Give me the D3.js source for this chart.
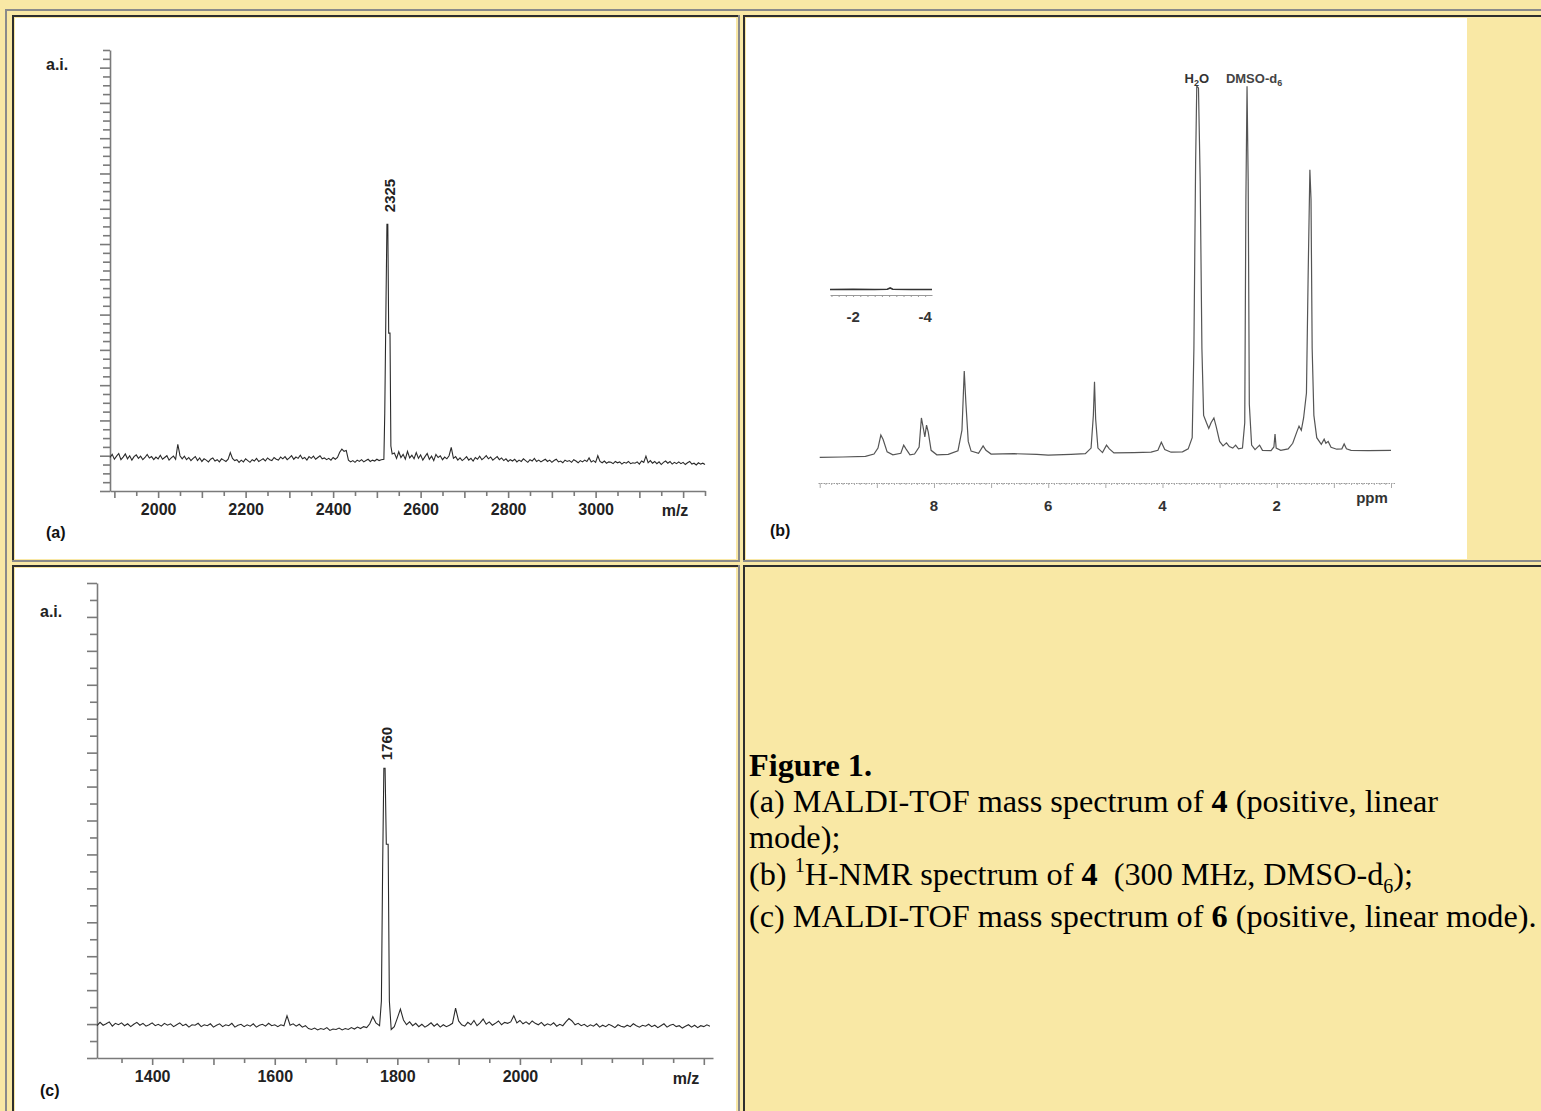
<!DOCTYPE html>
<html>
<head>
<meta charset="utf-8">
<script src="https://cdn.jsdelivr.net/npm/d3@7"></script>
<style>
  body { margin: 0; background: #f9e8a5; }
  svg { display: block; }
</style>
</head>
<body>
<svg id="fig" width="1541" height="1111"></svg>
<script>
// ---- data ----

// (a) MALDI-TOF of 4: baseline samples every 5 m/z from 1890
const mzStartA = 1890, mzStepA = 5;
const noiseA = [
  7.6,8.3,7.2,7.9,8.5,7.1,7.7,8.4,7.3,8.0,7.0,7.8,8.2,7.4,7.9,7.1,7.6,8.3,7.5,7.8,
  7.1,7.7,7.3,8.1,7.2,7.6,8.0,7.0,7.5,7.9,7.2,10.6,8.0,7.3,7.9,7.1,7.6,6.9,7.4,7.8,
  6.9,7.5,6.7,7.3,7.0,6.6,7.2,7.5,6.8,7.1,6.6,7.3,7.0,6.7,7.2,8.7,7.4,6.9,7.1,6.5,
  7.0,6.6,7.3,6.9,6.5,7.1,6.8,7.4,6.7,7.0,7.3,6.8,7.5,7.1,6.9,7.6,7.2,7.0,7.7,7.3,
  7.8,7.1,7.5,8.0,7.2,7.7,7.4,8.1,7.3,7.6,7.0,7.8,7.4,7.9,7.2,7.6,8.0,7.3,7.5,7.1,
  7.4,7.0,7.6,7.2,7.6,8.8,9.5,9.0,9.2,7.0,6.6,6.9,6.5,7.0,6.7,7.1,6.6,6.9,7.2,6.7,
  7.0,6.8,7.2,6.9,7.1,7.0,7.0,7.0,7.0,7.0,8.6,7.4,8.9,7.6,8.3,7.2,9.0,7.5,8.1,7.3,
  8.7,7.4,8.2,7.0,7.8,8.5,7.2,7.9,6.9,8.3,7.6,8.0,7.1,7.7,7.3,8.0,9.9,7.4,7.8,7.0,
  7.5,6.9,7.3,7.8,7.0,7.4,6.8,7.6,7.2,7.9,7.1,7.5,8.0,7.3,7.7,7.0,7.4,7.8,7.1,7.5,
  6.9,7.3,6.7,7.1,6.8,7.2,6.6,7.0,6.7,7.3,6.9,6.5,7.1,6.8,7.4,6.7,7.0,6.6,6.9,7.2,
  6.7,7.0,6.5,6.9,7.2,6.6,6.8,6.4,7.0,6.7,6.9,6.5,7.1,6.8,6.4,6.9,6.6,7.0,6.7,7.5,
  6.6,6.9,6.5,8.0,6.7,6.4,6.8,6.3,6.6,6.5,6.2,6.7,6.4,6.6,6.1,6.5,6.3,6.7,6.2,6.4,
  6.3,6.6,6.1,6.8,6.5,7.9,6.4,6.9,6.3,6.7,6.2,6.6,6.0,6.5,6.8,6.3,6.7,6.1,6.5,6.2,
  6.6,6.2,6.5,6.0,6.4,6.7,6.1,6.3,5.9,6.4,6.1,6.3,6.0];
const peakA = [[2516,7.2],[2518,17.5],[2521,44],[2523,60.5],[2525,60.5],[2527,35.8],[2530,35.8],[2532,10.2],[2535,8.4]];
const peakLabelA = "2325";
const xLabelsA = [2000, 2200, 2400, 2600, 2800, 3000];

// (c) MALDI-TOF of 6: baseline samples every 5 m/z from 1310
const mzStartC = 1310, mzStepC = 5;
const noiseC = [
  6.8,7.5,6.9,7.2,7.6,6.7,7.3,7.0,7.4,6.8,7.2,6.6,7.1,7.5,6.9,7.3,6.7,7.0,7.4,6.8,
  7.1,6.7,7.3,6.9,7.2,6.6,7.0,7.4,6.8,7.1,6.5,7.0,6.9,7.3,6.6,7.0,6.8,7.2,6.5,6.9,
  7.2,6.6,7.0,6.8,7.3,6.5,6.9,7.1,6.6,7.0,6.7,7.2,6.5,6.9,7.1,6.7,7.3,6.8,7.0,6.6,
  7.0,6.8,8.9,6.9,7.2,6.7,7.1,6.5,6.8,6.2,6.0,6.3,5.9,6.2,6.0,6.4,5.8,6.1,6.0,6.3,
  5.9,6.2,6.0,6.4,6.1,6.5,6.2,6.6,6.4,7.2,8.7,7.4,7.0,7.0,7.0,7.0,7.0,6.6,8.4,10.3,
  8.0,7.0,7.6,6.8,7.3,6.6,7.1,6.5,6.9,7.4,6.7,7.2,6.5,7.0,6.6,6.9,7.3,10.5,7.8,7.0,
  6.7,7.5,7.0,7.9,6.8,7.4,8.2,7.1,7.6,6.9,7.3,7.8,7.0,7.5,7.3,7.6,8.9,7.4,7.9,7.2,
  7.6,7.1,7.8,7.3,7.0,7.5,6.8,7.2,6.9,7.4,6.7,7.1,6.8,7.6,8.3,7.8,7.0,7.3,6.8,7.1,
  6.6,7.0,6.7,7.2,6.5,6.9,6.6,7.1,6.8,6.4,7.0,6.7,6.5,6.9,6.6,7.2,6.8,6.5,6.9,6.7,
  7.1,6.6,6.9,6.4,6.8,7.2,6.5,6.9,7.1,6.6,6.8,6.3,6.7,7.0,6.5,6.9,6.4,6.8,6.6,7.0,
  6.7];
const peakC = [[1771,6.8],[1774,12],[1776,40],[1778,61],[1780,61],[1782,45],[1785,45],[1787,12],[1790,6.0]];
const peakLabelC = "1760";
const xLabelsC = [1400, 1600, 1800, 2000];

// (b) 1H-NMR of 4: [ppm, intensity]
const nmrPts = [[10.0,0.7],[9.6,0.8],[9.2,1.0],[9.05,1.6],[8.98,3.2],[8.93,6.7],[8.89,5.5],[8.82,2.2],[8.72,1.4],
  [8.58,1.8],[8.53,4.0],[8.49,3.0],[8.42,1.4],[8.34,1.6],[8.26,3.5],[8.22,11.3],[8.18,8.0],[8.16,6.2],[8.13,9.4],
  [8.10,7.5],[8.05,2.6],[7.95,1.4],[7.75,1.5],[7.58,2.5],[7.51,8],[7.47,23.9],[7.44,15],[7.40,5],[7.35,2.4],
  [7.22,1.8],[7.14,3.8],[7.09,2.6],[7.0,1.6],[6.6,1.7],[6.2,1.5],[6.0,1.3],[5.6,1.5],[5.35,1.7],[5.25,3.2],
  [5.21,12],[5.19,21],[5.17,11],[5.13,3.2],[5.05,2.0],[4.98,4.0],[4.93,3.0],[4.85,1.9],[4.5,2.0],[4.2,2.1],
  [4.08,2.6],[4.02,4.8],[3.96,2.8],[3.85,2.1],[3.65,2.2],[3.55,3.0],[3.48,6],[3.45,30],[3.42,80],[3.40,100.5],
  [3.37,100],[3.34,75],[3.31,30],[3.28,12],[3.23,10],[3.19,8.5],[3.15,10],[3.10,11.3],[3.06,9],[3.0,5],
  [2.94,3.8],[2.88,4.6],[2.83,3.6],[2.77,3.2],[2.72,4.0],[2.67,3.0],[2.60,3.2],[2.56,10],[2.54,70],[2.52,100.5],
  [2.50,75],[2.48,15],[2.44,4],[2.38,2.8],[2.30,4.0],[2.25,2.6],[2.10,2.5],[2.05,3.5],[2.03,7.0],[2.01,3.2],
  [1.93,2.6],[1.80,3.0],[1.72,4.5],[1.65,7.5],[1.61,9.1],[1.57,8],[1.53,11.3],[1.48,18],[1.45,50],[1.42,78],
  [1.40,70],[1.38,30],[1.35,12],[1.30,6],[1.22,4.2],[1.17,5.6],[1.14,4.5],[1.10,5.0],[1.05,3.4],[0.95,2.9],
  [0.86,3.0],[0.82,4.3],[0.78,3.0],[0.7,2.6],[0.4,2.5],[0.0,2.6]];
const nmrLabels = [8, 6, 4, 2];
const nmrInset = [[-1.36,0.5],[-2.0,0.6],[-2.6,0.5],[-2.95,0.7],[-3.03,2.0],[-3.1,0.7],[-3.6,0.5],[-4.19,0.5]];
const insetLabels = [-2, -4];

const caption = [
  [{t:"Figure 1.", b:true}],
  [{t:"(a) MALDI-TOF mass spectrum of "},{t:"4",b:true},{t:" (positive, linear"}],
  [{t:"mode);"}],
  [{t:"(b) "},{t:"1",sup:true},{t:"H-NMR spectrum of "},{t:"4",b:true},{t:"  (300 MHz, DMSO-d"},{t:"6",sub:true},{t:");"}],
  [{t:"(c) MALDI-TOF mass spectrum of "},{t:"6",b:true},{t:" (positive, linear mode)."}]
];

// ---- page / table ----
const svg = d3.select("#fig");
const W = 1541, H = 1111;
svg.append("rect").attr("width", W).attr("height", H).attr("fill", "#f9e8a5");

// table outer border (top + left visible)
svg.append("rect").attr("x", 5).attr("y", 9).attr("width", W).attr("height", 2).attr("fill", "#8a8a8a");
svg.append("rect").attr("x", 5).attr("y", 9).attr("width", 2).attr("height", H).attr("fill", "#8a8a8a");

function cell(x0, y0, x1, y1) {
  svg.append("rect").attr("x", x0).attr("y", y0).attr("width", x1 - x0).attr("height", 2).attr("fill", "#2e2e2e");
  svg.append("rect").attr("x", x0).attr("y", y0).attr("width", 2).attr("height", y1 - y0).attr("fill", "#2e2e2e");
  svg.append("rect").attr("x", x1 - 2).attr("y", y0).attr("width", 2).attr("height", y1 - y0).attr("fill", "#8a8a8a");
  svg.append("rect").attr("x", x0).attr("y", y1 - 2).attr("width", x1 - x0).attr("height", 2).attr("fill", "#8a8a8a");
}
cell(12, 15, 740, 562);
cell(743, 15, 1600, 562);
cell(12, 565, 740, 1120);
cell(743, 565, 1600, 1120);

svg.append("rect").attr("x", 15).attr("y", 18).attr("width", 721).attr("height", 541).attr("fill", "#fff");
svg.append("rect").attr("x", 746).attr("y", 18).attr("width", 721).attr("height", 541).attr("fill", "#fff");
svg.append("rect").attr("x", 15).attr("y", 568).attr("width", 721).attr("height", 543).attr("fill", "#fff");

const sans = "'Liberation Sans', Arial, sans-serif";

// ---- MALDI panels ----
function spectrum(noise, start, step, peak, win) {
  const pts = noise.map((v, i) => [start + i * step, v])
    .filter(d => d[0] < win[0] || d[0] > win[1])
    .concat(peak);
  return pts.sort((a, b) => a[0] - b[0]);
}

function maldi(o) {
  const g = svg.append("g");
  const x = d3.scaleLinear().domain(o.xDomain).range(o.xRange);
  const y = d3.scaleLinear().domain([0, 100]).range(o.yRange);

  const yAxis = g.append("g")
    .attr("transform", `translate(${o.xRange[0]},0)`)
    .call(d3.axisLeft(y).tickValues(o.yTicks).tickSize(7).tickSizeOuter(0).tickFormat(""));
  yAxis.selectAll(".tick line").attr("x2", (d, i) => o.yMajor(i) ? -10 : -7);

  const xAxis = g.append("g")
    .attr("transform", `translate(0,${o.yRange[0]})`)
    .call(d3.axisBottom(x).tickValues(o.xTicks).tickSize(5).tickSizeOuter(0).tickPadding(8)
      .tickFormat(d => o.xLabels.includes(d) ? d : ""));
  xAxis.selectAll(".tick line").attr("y2", d => d % 100 === 0 ? 7 : 5);

  g.selectAll(".domain, .tick line").attr("stroke", "#7a7a7a").attr("stroke-width", 1.6);
  g.selectAll(".tick text").attr("font-family", sans).attr("font-weight", "bold")
    .attr("font-size", 16).attr("fill", "#222");

  const pts = spectrum(o.noise, o.start, o.step, o.peak, o.win);
  g.append("path").datum(pts)
    .attr("fill", "none").attr("stroke", "#2a2a2a").attr("stroke-width", 1.1)
    .attr("d", d3.line().x(d => x(d[0])).y(d => y(d[1])));

  const top = d3.max(o.peak, d => d[1]);
  const px = d3.mean(o.peak.filter(d => d[1] === top), d => d[0]);
  g.append("text")
    .attr("transform", `translate(${x(px) + 2},${y(top) - o.labelGap}) rotate(-90)`)
    .attr("dy", "0.35em")
    .attr("font-family", sans).attr("font-weight", "bold").attr("font-size", 15).attr("fill", "#222")
    .text(o.peakLabel);

  g.append("text").attr("x", o.aiPos[0]).attr("y", o.aiPos[1])
    .attr("font-family", sans).attr("font-weight", "bold").attr("font-size", 16).attr("fill", "#222")
    .text("a.i.");
  g.append("text").attr("x", o.mzPos[0]).attr("y", o.mzPos[1]).attr("text-anchor", "middle")
    .attr("font-family", sans).attr("font-weight", "bold").attr("font-size", 16).attr("fill", "#222")
    .text("m/z");
  g.append("text").attr("x", o.tagPos[0]).attr("y", o.tagPos[1])
    .attr("font-family", sans).attr("font-weight", "bold").attr("font-size", 16).attr("fill", "#111")
    .text(o.tag);
}

maldi({
  xDomain: [1890, 3250], xRange: [110, 705], yRange: [491, 50],
  xTicks: d3.range(1900, 3251, 50), xLabels: xLabelsA,
  yTicks: d3.range(0, 101, 2), yMajor: i => i % 4 === 0,
  noise: noiseA, start: mzStartA, step: mzStepA, peak: peakA, win: [2512, 2537],
  peakLabel: peakLabelA, labelGap: 12,
  aiPos: [46, 70], mzPos: [675, 516], tagPos: [46, 538], tag: "(a)"
});

maldi({
  xDomain: [1310, 2315], xRange: [97, 713], yRange: [1058, 583],
  xTicks: d3.range(1350, 2301, 50), xLabels: xLabelsC,
  yTicks: d3.range(29).map(i => i * 100 / 28), yMajor: i => i % 2 === 0,
  noise: noiseC, start: mzStartC, step: mzStepC, peak: peakC, win: [1768, 1792],
  peakLabel: peakLabelC, labelGap: 8,
  aiPos: [40, 617], mzPos: [686, 1084], tagPos: [40, 1096], tag: "(c)"
});

// ---- NMR panel ----
(function() {
  const g = svg.append("g");
  const x = d3.scaleLinear().domain([10.03, -0.07]).range([818, 1395]);
  const y = d3.scaleLinear().domain([0, 100]).range([460, 88]);

  g.append("path").datum(nmrPts)
    .attr("fill", "none").attr("stroke", "#555").attr("stroke-width", 1.2)
    .attr("d", d3.line().x(d => x(d[0])).y(d => y(d[1])));

  const ax = g.append("g").attr("transform", "translate(0,483)")
    .call(d3.axisBottom(x).tickValues(d3.range(0, 101).map(i => i / 10)).tickSize(2).tickSizeOuter(0).tickFormat(""));
  ax.select(".domain").attr("stroke", "#999").attr("stroke-dasharray", "1.5,1");
  ax.selectAll(".tick line").attr("stroke", "#aaa").attr("y2", d => Math.abs(d - Math.round(d)) < 1e-6 ? 5 : 2);

  g.selectAll(".ppm").data(nmrLabels).join("text")
    .attr("x", d => x(d)).attr("y", 511).attr("text-anchor", "middle")
    .attr("font-family", sans).attr("font-weight", "bold").attr("font-size", 15).attr("fill", "#333")
    .text(d => d);
  g.append("text").attr("x", 1372).attr("y", 503).attr("text-anchor", "middle")
    .attr("font-family", sans).attr("font-weight", "bold").attr("font-size", 15).attr("fill", "#333")
    .text("ppm");

  // solvent labels
  const t1 = g.append("text").attr("x", x(3.40)).attr("y", 83).attr("text-anchor", "middle")
    .attr("font-family", sans).attr("font-weight", "bold").attr("font-size", 13).attr("fill", "#333");
  t1.append("tspan").text("H");
  t1.append("tspan").attr("font-size", 9).attr("dy", 3).text("2");
  t1.append("tspan").attr("dy", -3).text("O");
  const t2 = g.append("text").attr("x", x(2.52) + 7).attr("y", 83).attr("text-anchor", "middle")
    .attr("font-family", sans).attr("font-weight", "bold").attr("font-size", 13).attr("fill", "#444");
  t2.append("tspan").text("DMSO-d");
  t2.append("tspan").attr("font-size", 9).attr("dy", 3).text("6");

  // inset (upfield region)
  const xi = d3.scaleLinear().domain([-1.36, -4.19]).range([830, 932]);
  const yi = d3.scaleLinear().domain([0, 10]).range([290, 280]);
  g.append("path").datum(nmrInset)
    .attr("fill", "none").attr("stroke", "#333").attr("stroke-width", 1.6)
    .attr("d", d3.line().x(d => xi(d[0])).y(d => yi(d[1])));
  const ia = g.append("g").attr("transform", "translate(0,295)")
    .call(d3.axisBottom(xi).tickValues(d3.range(-14, -42, -2).map(v => v / 10)).tickSize(2).tickSizeOuter(0).tickFormat(""));
  ia.selectAll(".domain, .tick line").attr("stroke", "#999");
  g.selectAll(".ins").data(insetLabels).join("text")
    .attr("x", d => xi(d)).attr("y", 322).attr("text-anchor", "middle")
    .attr("font-family", sans).attr("font-weight", "bold").attr("font-size", 15).attr("fill", "#333")
    .text(d => d);

  g.append("text").attr("x", 770).attr("y", 536)
    .attr("font-family", sans).attr("font-weight", "bold").attr("font-size", 16).attr("fill", "#111")
    .text("(b)");
})();

// ---- caption ----
const baselines = [776, 812, 848, 885, 927];
caption.forEach((line, i) => {
  const t = svg.append("text").attr("x", 749).attr("y", baselines[i])
    .attr("font-family", "'Liberation Serif', 'Times New Roman', serif").attr("font-size", 32.25).attr("fill", "#000");
  line.forEach(s => {
    const sp = t.append("tspan").attr("xml:space", "preserve").text(s.t);
    if (s.b) sp.attr("font-weight", "bold");
    if (s.sup) { sp.attr("font-size", 20).attr("dy", -13); }
    if (s.sub) { sp.attr("font-size", 20).attr("dy", 8); }
  });
  // restore baseline after sup/sub
  t.selectAll("tspan").each(function(d, j) {
    const prev = line[j - 1];
    if (prev && prev.sup) d3.select(this).attr("dy", 13);
    if (prev && prev.sub) d3.select(this).attr("dy", -8);
  });
});
</script>
</body>
</html>
